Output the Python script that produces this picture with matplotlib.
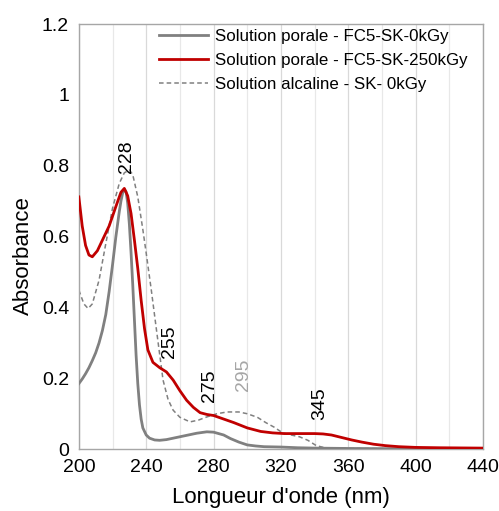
import matplotlib
matplotlib.use("Agg")
import matplotlib.pyplot as plt

plt.rcParams['font.family'] = ['Liberation Sans', 'DejaVu Sans']

# Solution porale - FC5-SK-0kGy
wl_gray = [200, 202, 204, 206, 208, 210, 212, 214, 216, 218, 220, 222, 224, 225, 226, 227, 228, 229, 230, 231, 232, 233, 234, 235, 236, 237, 238, 240, 242, 245, 248, 252, 256, 260, 265, 270, 276, 280, 286, 290, 295, 300, 305, 310, 320, 330, 340, 360, 400, 440]
ab_gray = [0.185, 0.198, 0.213, 0.23, 0.25, 0.272, 0.3, 0.335, 0.38, 0.445, 0.52, 0.6, 0.67, 0.7, 0.723, 0.733, 0.727, 0.695, 0.635, 0.555, 0.465, 0.365, 0.265, 0.185, 0.125, 0.085, 0.06, 0.04, 0.031, 0.026, 0.025, 0.027, 0.031, 0.035, 0.04, 0.045, 0.049, 0.048, 0.04, 0.03, 0.02, 0.012, 0.009, 0.007, 0.006, 0.004, 0.003, 0.002, 0.001, 0.001]

# Solution porale - FC5-SK-250kGy
wl_red = [200, 202, 204, 206, 208, 211, 214, 218, 222, 225, 227, 229, 231, 233, 235, 237, 239, 241, 244, 248, 252, 256, 260, 264, 268, 272, 276, 280, 286, 292, 300, 308, 315, 322, 330, 340, 345, 350, 356, 362, 368, 375, 382, 390, 400, 414, 440]
ab_red = [0.712, 0.63, 0.575, 0.548, 0.543, 0.56, 0.59, 0.63, 0.685, 0.725, 0.736, 0.715, 0.665, 0.59, 0.51, 0.42, 0.34, 0.28, 0.245, 0.23, 0.218, 0.195, 0.165, 0.138, 0.118, 0.103, 0.098, 0.095, 0.085, 0.075, 0.06, 0.05, 0.046, 0.044, 0.044, 0.044, 0.043, 0.04, 0.033, 0.026, 0.02, 0.014, 0.01, 0.007, 0.005, 0.004, 0.003]

# Solution alcaline - SK- 0kGy
wl_dash = [200, 203, 205.5, 208, 212, 216, 220, 224, 227, 230, 232, 235, 238, 240, 243, 246, 250, 253, 256, 260, 266, 271, 276, 282, 288, 295, 300, 306, 311, 316, 321, 326, 331, 336, 341, 346, 360, 400, 440]
ab_dash = [0.449, 0.41, 0.397, 0.41, 0.477, 0.58, 0.68, 0.75, 0.78, 0.788, 0.775, 0.712, 0.62, 0.553, 0.45, 0.34, 0.195, 0.14, 0.11, 0.09, 0.077, 0.082, 0.091, 0.1, 0.105, 0.105, 0.1, 0.09, 0.075, 0.062, 0.046, 0.04, 0.035, 0.025, 0.01, 0.004, 0.002, 0.001, 0.001]

series_labels = ['Solution porale - FC5-SK-0kGy', 'Solution porale - FC5-SK-250kGy', 'Solution alcaline - SK- 0kGy']

peak_labels = ['228', '255', '275', '295', '345']
peak_x = [228.5, 254, 277.8, 297.6, 343.2]
peak_y = [0.825, 0.303, 0.18, 0.209, 0.129]
peak_colors = ['black', 'black', 'black', '#a6a6a6', 'black']

xticks = [200, 240, 280, 320, 360, 400, 440]
yticks = [0, 0.2, 0.4, 0.6, 0.8, 1.0, 1.2]
ytick_labels = ['0', '0.2', '0.4', '0.6', '0.8', '1', '1.2']

fig = plt.figure(figsize=(4.99, 5.11), dpi=100)
ax = fig.add_axes([0.158, 0.121, 0.81, 0.832])

for x in range(200, 441, 20):
    ax.axvline(x, color='#d9d9d9' if x % 40 == 0 else '#e8e8e8', lw=0.9, zorder=0)

ax.plot(wl_gray, ab_gray, color='#808080', lw=2.0, label=series_labels[0], zorder=3)
ax.plot(wl_red, ab_red, color='#c00000', lw=2.0, label=series_labels[1], zorder=4)
ax.plot(wl_dash, ab_dash, color='#808080', lw=1.1, ls=(0, (3, 2)), label=series_labels[2], zorder=2)

for t, x, y, c in zip(peak_labels, peak_x, peak_y, peak_colors):
    ax.text(x, y, t, rotation=90, ha='center', va='center', fontsize=14, color=c)

ax.set_xlim(200, 440)
ax.set_ylim(0, 1.2)
ax.set_xticks(xticks)
ax.set_yticks(yticks)
ax.set_yticklabels(ytick_labels)
ax.tick_params(axis='both', length=0, labelsize=14, pad=7)
for s in ax.spines.values():
    s.set_color('#a6a6a6')
    s.set_linewidth(1.0)

ax.set_xlabel("Longueur d'onde (nm)", fontsize=16, labelpad=8)
ax.set_ylabel('Absorbance', fontsize=16)
ax.yaxis.set_label_coords(-0.111, 0.456)

ax.legend(loc='upper left', bbox_to_anchor=(0.181, 1.005), frameon=False, fontsize=12.2,
          handlelength=2.9, handletextpad=0.4, labelspacing=0.53, borderaxespad=0)

fig.savefig('out.png', dpi=100)
